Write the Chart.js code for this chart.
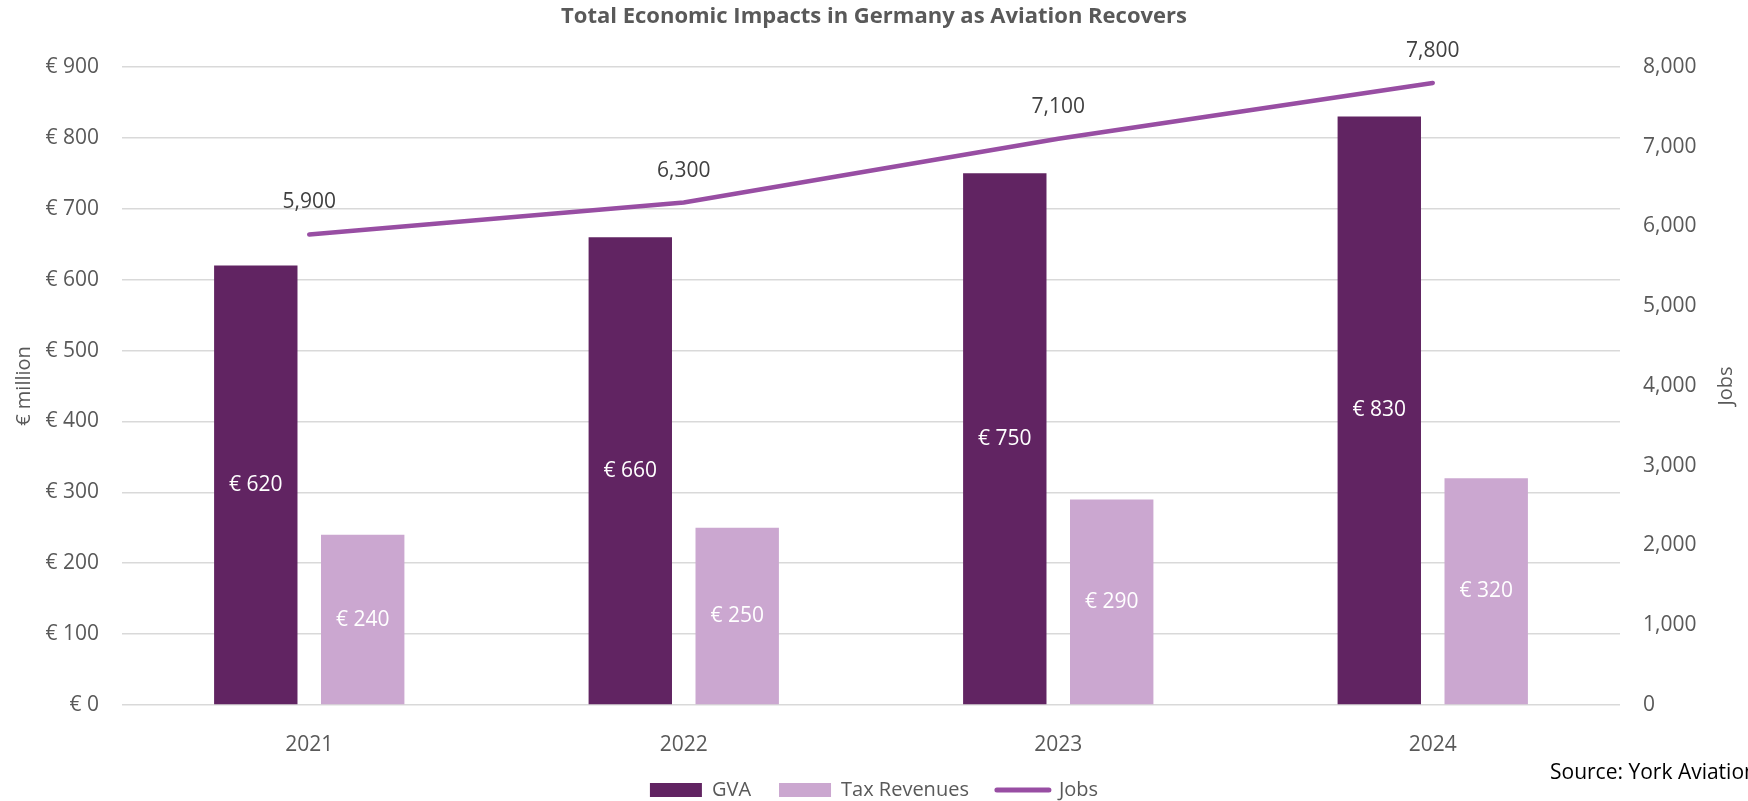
<!DOCTYPE html>
<html>
<head>
<meta charset="utf-8">
<title>Total Economic Impacts in Germany as Aviation Recovers</title>
<script src="https://cdn.jsdelivr.net/npm/chart.js@4/dist/chart.umd.min.js"></script>
<style>
  html, body { margin: 0; padding: 0; background: #fff; overflow: hidden; }
  #wrap { position: relative; width: 1748px; height: 801px; }
</style>
</head>
<body>
<div id="wrap"><canvas id="chart"></canvas></div>
<script>
// values in € million (bars) and jobs (line)
const years = ['2021', '2022', '2023', '2024'];
const gva = [620, 660, 750, 830];
const taxRevenues = [240, 250, 290, 320];
const jobs = [5900, 6300, 7100, 7800];

const FONT = "'Open Sans', 'DejaVu Sans', sans-serif";
const GREY = '#595959';

// value labels on bars / line points, the right axis title and the source note
const valueLabels = {
  id: 'valueLabels',
  afterDatasetsDraw(chart) {
    const ctx = chart.ctx;
    const area = chart.chartArea;
    ctx.save();
    ctx.textAlign = 'center';
    ctx.textBaseline = 'middle';
    ctx.font = '21px ' + FONT;
    chart.data.datasets.forEach((ds, i) => {
      const meta = chart.getDatasetMeta(i);
      meta.data.forEach((el, j) => {
        const v = ds.data[j];
        if (ds.type === 'line') {
          ctx.fillStyle = '#404040';
          ctx.fillText(v.toLocaleString('en-US'), el.x, el.y - 32);
        } else {
          ctx.fillStyle = '#ffffff';
          ctx.fillText('€ ' + v, el.x, (el.y + el.base) / 2);
        }
      });
    });

    // "Jobs" reads bottom-to-top like the left title
    ctx.save();
    ctx.translate(chart.width - 22, (area.top + area.bottom) / 2);
    ctx.rotate(-Math.PI / 2);
    ctx.fillStyle = GREY;
    ctx.font = '20px ' + FONT;
    ctx.fillText('Jobs', 0, 0);
    ctx.restore();

    ctx.textAlign = 'left';
    ctx.fillStyle = '#000000';
    ctx.font = '21px ' + FONT;
    ctx.fillText('Source: York Aviation', 1550, 773);
    ctx.restore();
  }
};

new Chart(document.getElementById('chart'), {
  data: {
    labels: years,
    datasets: [
      {
        type: 'bar', label: 'GVA', data: gva, yAxisID: 'y', order: 1,
        backgroundColor: '#612462',
        categoryPercentage: 0.571, barPercentage: 0.78
      },
      {
        type: 'bar', label: 'Tax Revenues', data: taxRevenues, yAxisID: 'y', order: 1,
        backgroundColor: '#CBA7D0',
        categoryPercentage: 0.571, barPercentage: 0.78
      },
      {
        type: 'line', label: 'Jobs', data: jobs, yAxisID: 'y1', order: 0,
        borderColor: '#984EA3', backgroundColor: '#984EA3',
        borderWidth: 4.5, pointRadius: 0, tension: 0, borderCapStyle: 'round'
      }
    ]
  },
  options: {
    responsive: true,
    maintainAspectRatio: false,
    animation: false,
    layout: { padding: { left: 0, right: 0, top: 0, bottom: -9 } },
    plugins: {
      title: {
        display: true,
        text: 'Total Economic Impacts in Germany as Aviation Recovers',
        color: GREY,
        font: { family: FONT, size: 22, weight: 'bold' },
        padding: { top: 4, bottom: 36.6 }
      },
      legend: {
        position: 'bottom',
        labels: {
          usePointStyle: true,
          pointStyleWidth: 52,
          boxHeight: 14,
          padding: 28,
          color: GREY,
          font: { family: FONT, size: 20 },
          sort: (a, b) => a.datasetIndex - b.datasetIndex,
          generateLabels(chart) {
            const items = Chart.defaults.plugins.legend.labels.generateLabels(chart);
            items.forEach(it => {
              const ds = chart.data.datasets[it.datasetIndex];
              if (ds.type === 'line') {
                it.pointStyle = 'line';
                it.lineWidth = 5;
                it.strokeStyle = ds.borderColor;
                it.lineCap = 'round';
              } else {
                it.pointStyle = 'rect';
                it.lineWidth = 0;
              }
            });
            return items;
          }
        }
      },
      tooltip: { enabled: false }
    },
    scales: {
      x: {
        grid: { display: false },
        border: { display: false },
        ticks: { color: GREY, padding: 19, font: { family: FONT, size: 21 } },
        afterFit(scale) { scale.height = 47; }
      },
      y: {
        position: 'left',
        min: 0, max: 900,
        grid: { color: '#D9D9D9', lineWidth: 1.5, drawTicks: false },
        border: { display: false },
        ticks: {
          stepSize: 100, padding: 23, color: GREY,
          font: { family: FONT, size: 21 },
          callback: v => '€ ' + v
        },
        title: {
          display: true, text: '€ million', color: GREY,
          font: { family: FONT, size: 20 }, padding: { top: 12, bottom: 0 }
        },
        afterFit(scale) { scale.width = 122; }
      },
      y1: {
        position: 'right',
        min: 0, max: 8000,
        grid: { display: false, drawTicks: false },
        border: { display: false },
        ticks: {
          stepSize: 1000, padding: 23, color: GREY,
          font: { family: FONT, size: 21 },
          callback: v => v.toLocaleString('en-US')
        },
        afterFit(scale) { scale.width = 128; }
      }
    }
  },
  plugins: [valueLabels]
});
</script>
</body>
</html>
